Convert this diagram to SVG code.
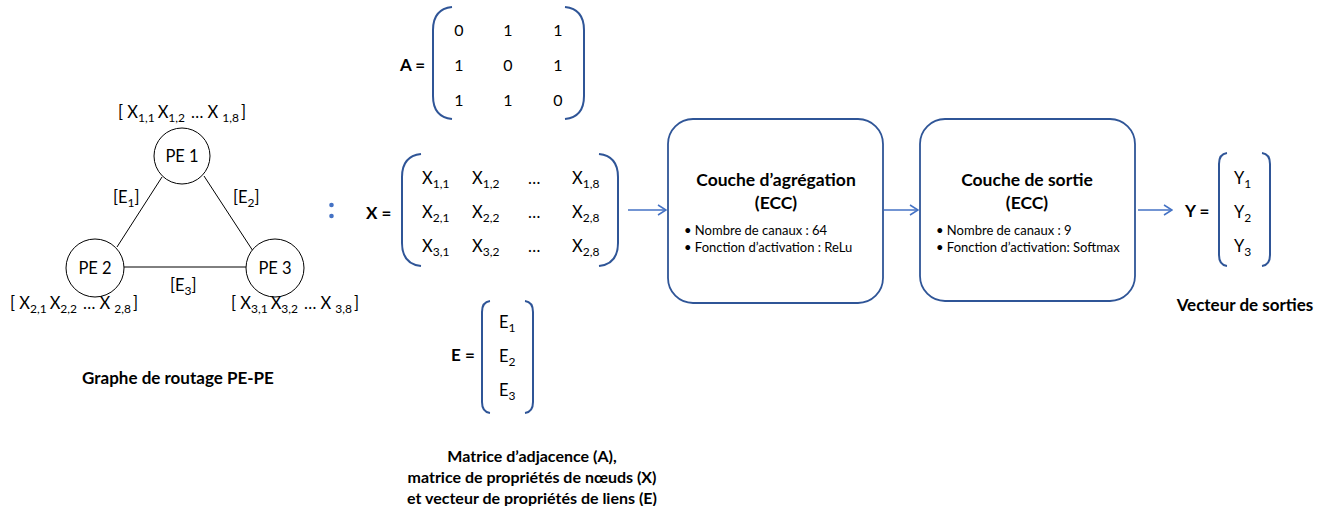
<svg xmlns="http://www.w3.org/2000/svg" width="1331" height="506" viewBox="0 0 1331 506">
<defs>
<style>
text{font-family:Lato,"Open Sans","Liberation Sans",sans-serif;fill:#000}
.t{font-size:16.5px}
.m{font-size:16px}
.b{font-size:17px;font-weight:bold}
.c{font-size:16px;font-weight:bold}
.s{font-size:12px}
.h{font-size:17.5px;font-weight:bold}
.bl{font-size:13px}
.node{fill:#fff;stroke:#000;stroke-width:1}
.edge{stroke:#000;stroke-width:1;fill:none}
.br{fill:none;stroke:#2F5597;stroke-width:2}
.box{fill:#fff;stroke:#2F5597;stroke-width:1.8}
.arr{stroke:#4472C4;stroke-width:1.5;fill:none;marker-end:url(#ah)}
</style>
<marker id="ah" markerWidth="10" markerHeight="12" refX="9" refY="6" orient="auto" markerUnits="userSpaceOnUse">
<path d="M1,1 L9,6 L1,11" fill="none" stroke="#4472C4" stroke-width="1.5"/>
</marker>
</defs>
<rect width="1331" height="506" fill="#fff"/>

<g id="connectors">
<line class="edge" x1="162" y1="177" x2="117" y2="247"/>
<line class="edge" x1="204" y1="176" x2="253" y2="251"/>
<line class="edge" x1="124" y1="267" x2="246" y2="267"/>
<line class="arr" x1="628" y1="210" x2="666" y2="210"/>
<line class="arr" x1="884" y1="210" x2="918" y2="210"/>
<line class="arr" x1="1138" y1="210" x2="1172" y2="210"/>
</g>

<g id="pe1">
<circle class="node" cx="182" cy="156" r="28"/>
<text class="t" x="182" y="162" text-anchor="middle">PE 1</text>
</g>
<g id="pe2">
<circle class="node" cx="95" cy="268" r="29"/>
<text class="t" x="95" y="274" text-anchor="middle">PE 2</text>
</g>
<g id="pe3">
<circle class="node" cx="275" cy="268" r="29"/>
<text class="t" x="275" y="274" text-anchor="middle">PE 3</text>
</g>

<g id="graph-labels">
<text class="t" x="118" y="118">[ X<tspan class="s" dy="4">1,1</tspan><tspan dx="3" dy="-4">X</tspan><tspan class="s" dy="4">1,2</tspan><tspan dx="6" dy="-4">… X</tspan><tspan class="s" dx="4" dy="4">1,8</tspan><tspan dx="2" dy="-4">]</tspan></text>
<text class="t" x="113" y="203">[E<tspan class="s" dy="4">1</tspan><tspan dy="-4">]</tspan></text>
<text class="t" x="233" y="203">[E<tspan class="s" dy="4">2</tspan><tspan dy="-4">]</tspan></text>
<text class="t" x="170" y="291">[E<tspan class="s" dy="4">3</tspan><tspan dy="-4">]</tspan></text>
<text class="t" x="10" y="309">[ X<tspan class="s" dy="4">2,1</tspan><tspan dx="3" dy="-4">X</tspan><tspan class="s" dy="4">2,2</tspan><tspan dx="6" dy="-4">… X</tspan><tspan class="s" dx="4" dy="4">2,8</tspan><tspan dx="2" dy="-4">]</tspan></text>
<text class="t" x="231" y="309">[ X<tspan class="s" dy="4">3,1</tspan><tspan dx="3" dy="-4">X</tspan><tspan class="s" dy="4">3,2</tspan><tspan dx="6" dy="-4">… X</tspan><tspan class="s" dx="4" dy="4">3,8</tspan><tspan dx="2" dy="-4">]</tspan></text>
<text class="b" x="178" y="384" text-anchor="middle">Graphe de routage PE-PE</text>
</g>

<g id="colon">
<circle cx="331.5" cy="205" r="2.3" fill="#4472C4"/>
<circle cx="331.5" cy="216" r="2.3" fill="#4472C4"/>
</g>

<g id="matrix-a">
<text class="b" x="400" y="71">A =</text>
<path class="br" d="M452,7 Q433,9 433,30 L433,96 Q433,117 452,119"/>
<path class="br" d="M565,7 Q584,9 584,30 L584,96 Q584,117 565,119"/>
<text class="m" x="459" y="36" text-anchor="middle">0</text>
<text class="m" x="508" y="36" text-anchor="middle">1</text>
<text class="m" x="558" y="36" text-anchor="middle">1</text>
<text class="m" x="459" y="71" text-anchor="middle">1</text>
<text class="m" x="508" y="71" text-anchor="middle">0</text>
<text class="m" x="558" y="71" text-anchor="middle">1</text>
<text class="m" x="459" y="106" text-anchor="middle">1</text>
<text class="m" x="508" y="106" text-anchor="middle">1</text>
<text class="m" x="558" y="106" text-anchor="middle">0</text>
</g>

<g id="matrix-x">
<text class="b" x="366" y="219">X =</text>
<path class="br" d="M421,154 Q402,156 402,177 L402,243 Q402,264 421,266"/>
<path class="br" d="M599,154 Q618,156 618,177 L618,243 Q618,264 599,266"/>
<text class="t" x="422" y="184">X<tspan class="s" dy="4">1,1</tspan></text>
<text class="t" x="472" y="184">X<tspan class="s" dy="4">1,2</tspan></text>
<text class="t" x="528" y="184">…</text>
<text class="t" x="572" y="184">X<tspan class="s" dy="4">1,8</tspan></text>
<text class="t" x="422" y="218">X<tspan class="s" dy="4">2,1</tspan></text>
<text class="t" x="472" y="218">X<tspan class="s" dy="4">2,2</tspan></text>
<text class="t" x="528" y="218">…</text>
<text class="t" x="572" y="218">X<tspan class="s" dy="4">2,8</tspan></text>
<text class="t" x="422" y="252">X<tspan class="s" dy="4">3,1</tspan></text>
<text class="t" x="472" y="252">X<tspan class="s" dy="4">3,2</tspan></text>
<text class="t" x="528" y="252">…</text>
<text class="t" x="572" y="252">X<tspan class="s" dy="4">2,8</tspan></text>
</g>

<g id="vector-e">
<text class="b" x="451" y="361">E =</text>
<path class="br" d="M490,301 Q482,302 482,312 L482,402 Q482,412 490,413"/>
<path class="br" d="M525,301 Q533,302 533,312 L533,402 Q533,412 525,413"/>
<text class="t" x="499" y="328">E<tspan class="s" dy="4">1</tspan></text>
<text class="t" x="499" y="362">E<tspan class="s" dy="4">2</tspan></text>
<text class="t" x="499" y="396">E<tspan class="s" dy="4">3</tspan></text>
</g>

<g id="matrices-caption">
<text class="c" x="532" y="462" text-anchor="middle">Matrice d’adjacence (A),</text>
<text class="c" x="532" y="483" text-anchor="middle">matrice de propriétés de nœuds (X)</text>
<text class="c" x="532" y="504" text-anchor="middle">et vecteur de propriétés de liens (E)</text>
</g>

<g id="box-aggregation">
<rect class="box" x="668" y="119" width="215" height="184" rx="25"/>
<text class="h" x="776" y="186" text-anchor="middle">Couche d’agrégation</text>
<text class="h" x="776" y="209" text-anchor="middle">(ECC)</text>
<text class="bl" x="684" y="235">•  Nombre de canaux : 64</text>
<text class="bl" x="684" y="252">•  Fonction d’activation : ReLu</text>
</g>

<g id="box-sortie">
<rect class="box" x="920" y="119" width="215" height="182" rx="25"/>
<text class="h" x="1027" y="186" text-anchor="middle">Couche de sortie</text>
<text class="h" x="1027" y="209" text-anchor="middle">(ECC)</text>
<text class="bl" x="936" y="235">•  Nombre de canaux : 9</text>
<text class="bl" x="936" y="252">•  Fonction d’activation: Softmax</text>
</g>

<g id="vector-y">
<text class="b" x="1185" y="217">Y =</text>
<path class="br" d="M1227,153 Q1219,154 1219,164 L1219,255 Q1219,265 1227,266"/>
<path class="br" d="M1262,153 Q1270,154 1270,164 L1270,255 Q1270,265 1262,266"/>
<text class="t" x="1234" y="184">Y<tspan class="s" dy="4">1</tspan></text>
<text class="t" x="1234" y="218">Y<tspan class="s" dy="4">2</tspan></text>
<text class="t" x="1234" y="252">Y<tspan class="s" dy="4">3</tspan></text>
<text class="b" x="1245" y="311" text-anchor="middle">Vecteur de sorties</text>
</g>
</svg>
